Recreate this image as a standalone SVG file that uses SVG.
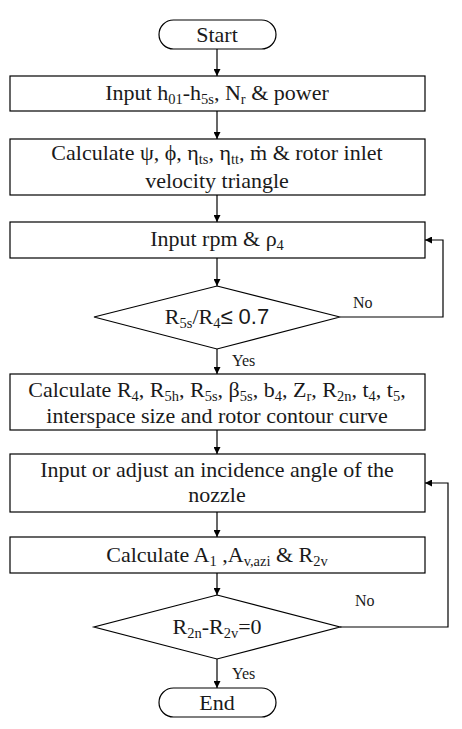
<svg xmlns="http://www.w3.org/2000/svg" width="462" height="729" viewBox="0 0 462 729">
<style>
.s{fill:#fff;stroke:#000;stroke-width:1.2}
text{font-family:'Liberation Serif','DejaVu Serif',serif}
.t{font-size:22px;fill:#1a1a1a;text-anchor:middle}
.l{font-size:16px;fill:#1a1a1a}
.c{fill:none;stroke:#000;stroke-width:1.2}
.sub{font-size:14.5px}
.a{font-family:'Liberation Sans',sans-serif}
</style>
<defs>
<marker id="ar" viewBox="0 0 10 10" refX="10" refY="5" markerWidth="7" markerHeight="7" markerUnits="userSpaceOnUse" orient="auto">
<path d="M0,0 L10,5 L0,10 z" fill="#000"/>
</marker>
</defs>
<rect width="462" height="729" fill="#fff"/>
<g id="connectors">
<line class="c" x1="217" y1="49" x2="217" y2="76" marker-end="url(#ar)"/>
<line class="c" x1="217" y1="111" x2="217" y2="139" marker-end="url(#ar)"/>
<line class="c" x1="217" y1="195" x2="217" y2="222" marker-end="url(#ar)"/>
<line class="c" x1="217" y1="258" x2="217" y2="286" marker-end="url(#ar)"/>
<line class="c" x1="217" y1="349" x2="217" y2="374" marker-end="url(#ar)"/>
<line class="c" x1="217" y1="430" x2="217" y2="454" marker-end="url(#ar)"/>
<line class="c" x1="217" y1="512" x2="217" y2="537" marker-end="url(#ar)"/>
<line class="c" x1="217" y1="573" x2="217" y2="595" marker-end="url(#ar)"/>
<line class="c" x1="217" y1="659" x2="217" y2="688" marker-end="url(#ar)"/>
<polyline class="c" points="340,317 443,317 443,240 425,240" marker-end="url(#ar)"/>
<polyline class="c" points="340,627 448,627 448,483 425,483" marker-end="url(#ar)"/>
<text class="l" x="353" y="308">No</text>
<text class="l" x="232" y="366">Yes</text>
<text class="l" x="355" y="606">No</text>
<text class="l" x="232" y="679">Yes</text>
</g>
<g id="start">
<rect class="s" x="159" y="20" width="117" height="29" rx="14.5"/>
<text class="t" x="217" y="42">Start</text>
</g>
<g id="input1">
<rect class="s" x="10" y="76" width="415" height="35"/>
<text class="t" x="217" y="100">Input h<tspan class="sub" dy="4">01</tspan><tspan dy="-4">-h</tspan><tspan class="sub" dy="4">5s</tspan><tspan dy="-4">, N</tspan><tspan class="sub" dy="4">r</tspan><tspan dy="-4"> &amp; power</tspan></text>
</g>
<g id="calc1">
<rect class="s" x="10" y="139" width="415" height="56"/>
<text class="t" x="217" y="160">Calculate ψ, ϕ, η<tspan class="sub" dy="4">ts</tspan><tspan dy="-4">, η</tspan><tspan class="sub" dy="4">tt</tspan><tspan dy="-4">, ṁ &amp; rotor inlet</tspan></text>
<text class="t" x="217" y="188">velocity triangle</text>
</g>
<g id="input2">
<rect class="s" x="10" y="222" width="415" height="36"/>
<text class="t" x="217" y="246">Input rpm &amp; ρ<tspan class="sub" dy="4">4</tspan></text>
</g>
<g id="dec1">
<polygon class="s" points="217,286 340,317 217,349 94,317"/>
<text class="t" x="217" y="324">R<tspan class="sub" dy="4">5s</tspan><tspan dy="-4">/R</tspan><tspan class="sub" dy="4">4</tspan><tspan dy="-4" class="a">≤ 0.7</tspan></text>
</g>
<g id="calc2">
<rect class="s" x="10" y="374" width="415" height="56"/>
<text class="t" x="217" y="397">Calculate R<tspan class="sub" dy="4">4</tspan><tspan dy="-4">, R</tspan><tspan class="sub" dy="4">5h</tspan><tspan dy="-4">, R</tspan><tspan class="sub" dy="4">5s</tspan><tspan dy="-4">, β</tspan><tspan class="sub" dy="4">5s</tspan><tspan dy="-4">, b</tspan><tspan class="sub" dy="4">4</tspan><tspan dy="-4">, Z</tspan><tspan class="sub" dy="4">r</tspan><tspan dy="-4">, R</tspan><tspan class="sub" dy="4">2n</tspan><tspan dy="-4">, t</tspan><tspan class="sub" dy="4">4</tspan><tspan dy="-4">, t</tspan><tspan class="sub" dy="4">5</tspan><tspan dy="-4">,</tspan></text>
<text class="t" x="217" y="423">interspace size and rotor contour curve</text>
</g>
<g id="input3">
<rect class="s" x="10" y="454" width="415" height="58"/>
<text class="t" x="217" y="477">Input or adjust an incidence angle of the</text>
<text class="t" x="217" y="502">nozzle</text>
</g>
<g id="calc3">
<rect class="s" x="10" y="537" width="415" height="36"/>
<text class="t" x="217" y="562">Calculate A<tspan class="sub" dy="4">1</tspan><tspan dy="-4"> ,A</tspan><tspan class="sub" dy="4">v,azi</tspan><tspan dy="-4"> &amp; R</tspan><tspan class="sub" dy="4">2v</tspan></text>
</g>
<g id="dec2">
<polygon class="s" points="217,595 340,627 217,659 94,627"/>
<text class="t" x="217" y="634">R<tspan class="sub" dy="4">2n</tspan><tspan dy="-4">-R</tspan><tspan class="sub" dy="4">2v</tspan><tspan dy="-4">=0</tspan></text>
</g>
<g id="end">
<rect class="s" x="159" y="688" width="117" height="29" rx="14.5"/>
<text class="t" x="217" y="710">End</text>
</g>
</svg>
